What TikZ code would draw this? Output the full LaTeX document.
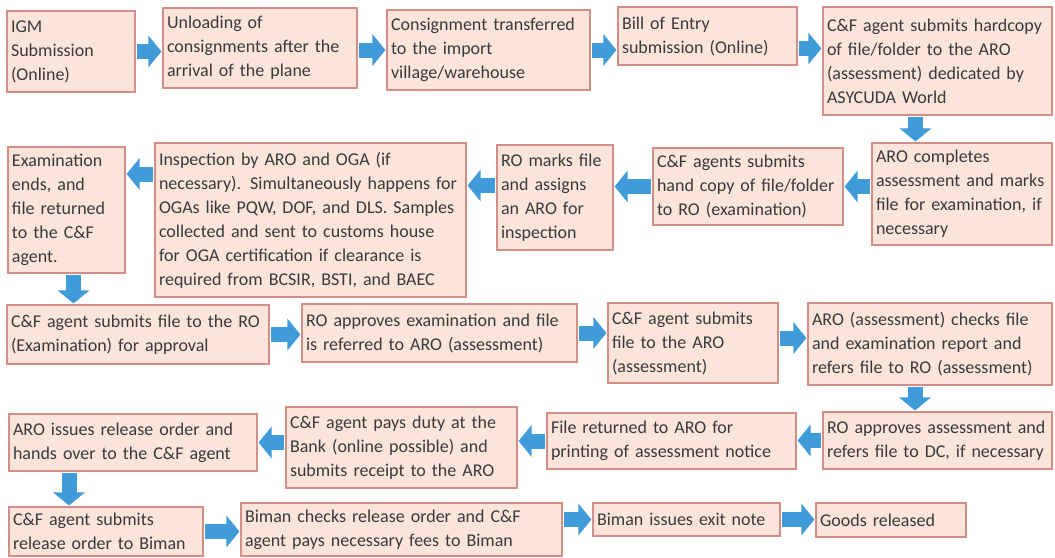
\documentclass[tikz,border=0pt]{standalone}
\usepackage{fontspec}
\setmainfont{Carlito}
\usetikzlibrary{arrows.meta,calc,shadows}

\definecolor{boxfill}{HTML}{FBE4DA}
\definecolor{boxline}{HTML}{D48E88}
\definecolor{flowblue}{HTML}{3F9CD8}
\definecolor{ink}{HTML}{3A3A3A}

% \stepnode{name}{x1}{y1}{x2}{y2}{text}: a process box spanning the given corners
\newcommand\stepnode[6]{%
  \pgfmathsetmacro\bw{#4-#2}%
  \pgfmathsetmacro\bh{#5-#3}%
  \pgfmathsetmacro\tw{#4-#2-8}%
  \node[box, minimum width=\bw pt, minimum height=\bh pt, text width=\tw pt]
    (#1) at ({(#2+#4)/2},{(#3+#5)/2}) {#6};}

\begin{document}
\begin{tikzpicture}[x=1pt,y=-1pt,
  box/.style={draw=boxline, line width=1.1pt, fill=boxfill, align=left,
    inner xsep=4pt, inner ysep=0pt, text=ink,
    font=\fontsize{18}{24}\selectfont,
    drop shadow={shadow xshift=1.2pt, shadow yshift=-1.2pt, fill=boxline, opacity=.45}},
  flow/.style={draw=flowblue, line width=15pt,
    -{Triangle[length=13pt,width=31pt]}, shorten <=1.5pt, shorten >=1pt}]

\fill[white] (0,0) rectangle (1055,557);
\useasboundingbox (0,0) rectangle (1055,557);

% first row, left to right
\stepnode{n1}{7}{11}{135}{92}{IGM\\Submission\\(Online)}
\stepnode{n2}{163}{8}{357}{88}{Unloading of\\consignments after the\\arrival of the plane}
\stepnode{n3}{387}{10}{590}{90}{Consignment transferred\\to the import\\village/warehouse}
\stepnode{n4}{618}{7}{797}{65}{Bill of Entry\\submission (Online)}
\stepnode{n5}{823}{7}{1052}{115}{C\&F agent submits hardcopy\\of file/folder to the ARO\\(assessment) dedicated by\\ASYCUDA World}

% second row, right to left
\stepnode{n6}{872}{143}{1052}{245}{ARO completes\\assessment and marks\\file for examination, if\\necessary}
\stepnode{n7}{653}{148}{843}{225}{C\&F agents submits\\hand copy of file/folder\\to RO (examination)}
\stepnode{n8}{497}{145}{613}{250}{RO marks file\\and assigns\\an ARO for\\inspection}
\stepnode{n9}{155}{143}{466}{297}{Inspection by ARO and OGA (if\\necessary). Simultaneously happens for\\OGAs like PQW, DOF, and DLS. Samples\\collected and sent to customs house\\for OGA certification if clearance is\\required from BCSIR, BSTI, and BAEC}
\stepnode{n10}{8}{147}{125}{273}{Examination\\ends, and\\file returned\\to the C\&F\\agent.}

% third row, left to right
\stepnode{n11}{7}{305}{269}{364}{C\&F agent submits file to the RO\\(Examination) for approval}
\stepnode{n12}{302}{304}{577}{362}{RO approves examination and file\\is referred to ARO (assessment)}
\stepnode{n13}{608}{303}{778}{383}{C\&F agent submits\\file to the ARO\\(assessment)}
\stepnode{n14}{808}{303}{1052}{385}{ARO (assessment) checks file\\and examination report and\\refers file to RO (assessment)}

% fourth row, right to left
\stepnode{n15}{823}{412}{1052}{469}{RO approves assessment and\\refers file to DC, if necessary}
\stepnode{n16}{547}{413}{796}{469}{File returned to ARO for\\printing of assessment notice}
\stepnode{n17}{286}{407}{517}{488}{C\&F agent pays duty at the\\Bank (online possible) and\\submits receipt to the ARO}
\stepnode{n18}{9}{414}{257}{471}{ARO issues release order and\\hands over to the C\&F agent}

% fifth row, left to right
\stepnode{n19}{9}{507}{203}{556}{C\&F agent submits\\release order to Biman}
\stepnode{n20}{241}{503}{562}{556}{Biman checks release order and C\&F\\agent pays necessary fees to Biman}
\stepnode{n21}{593}{503}{780}{536}{Biman issues exit note}
\stepnode{n22}{816}{503}{966}{537}{Goods released}

% block arrows between the steps
\draw[flow] (n1.east) -- (n1.east -| n2.west);
\draw[flow] (n3.west -| n2.east) -- (n3.west);
\draw[flow] (n3.east) -- (n3.east -| n4.west);
\draw[flow] ($(n4.east)!.5!(n4.east |- n5.west)$) -- ($(n5.west)!.5!(n5.west |- n4.east)$);
\draw[flow] ([xshift=-22pt]n5.south) -- ([xshift=-22pt]n5.south |- n6.north);

\draw[flow] (n7.east -| n6.west) -- (n7.east);
\draw[flow] (n7.west) -- (n7.west -| n8.east);
\draw[flow] ([yshift=12pt]n8.west) -- ([yshift=12pt]n8.west -| n9.east);
\draw[flow] ([yshift=46pt]n9.west) -- ([yshift=46pt]n9.west -| n10.east);
\draw[flow] ([xshift=7pt]n10.south) -- ([xshift=7pt]n10.south |- n11.north);

\draw[flow] (n11.east) -- (n11.east -| n12.west);
\draw[flow] (n12.east) -- (n12.east -| n13.west);
\draw[flow] ([yshift=5pt]n13.east) -- ([yshift=5pt]n13.east -| n14.west);
\draw[flow] ([xshift=-15pt]n14.south) -- ([xshift=-15pt]n14.south |- n15.north);

\draw[flow] (n15.west) -- (n15.west -| n16.east);
\draw[flow] (n16.west) -- (n16.west -| n17.east);
\draw[flow] (n18.east -| n17.west) -- (n18.east);
\draw[flow] ([xshift=-64pt]n18.south) -- ([xshift=-64pt]n18.south |- n19.north);

\draw[flow] (n19.east) -- (n19.east -| n20.west);
\draw[flow] (n21.west -| n20.east) -- (n21.west);
\draw[flow] (n21.east) -- (n21.east -| n22.west);
\end{tikzpicture}
\end{document}
